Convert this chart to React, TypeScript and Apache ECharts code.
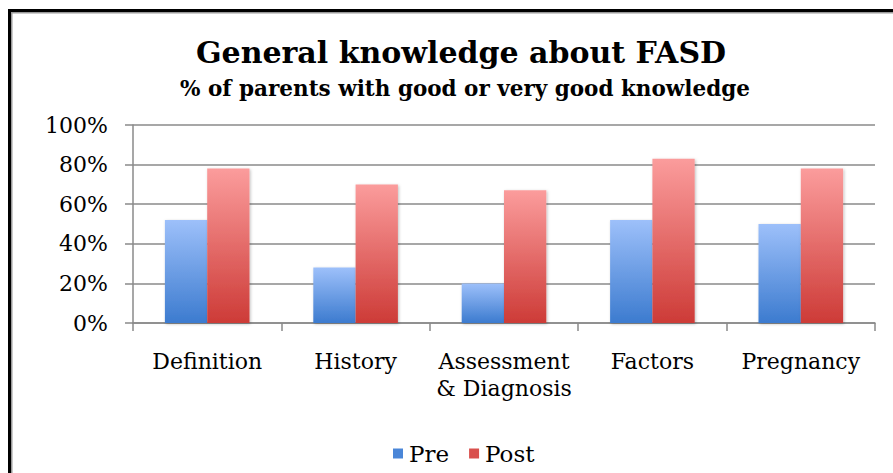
import React, { useEffect, useRef } from "react";
import * as echarts from "echarts";

const categories = ["Definition", "History", "Assessment\n& Diagnosis", "Factors", "Pregnancy"];
const preValues = [52, 28, 20, 52, 50];
const postValues = [78, 70, 67, 83, 78];
const yTicks = [0, 20, 40, 60, 80, 100];

const FONT = "'DejaVu Serif', serif";

export default function App() {
  const ref = useRef<HTMLDivElement>(null);
  useEffect(() => {
    if (!ref.current) return;
    const chart = echarts.init(ref.current, null, { renderer: "svg" });
    const grad = (top: string, bottom: string) =>
      new echarts.graphic.LinearGradient(0, 0, 0, 1, [
        { offset: 0, color: top },
        { offset: 1, color: bottom },
      ]);
    chart.setOption({
      animation: false,
      backgroundColor: "#ffffff",
      title: [
        {
          text: "General knowledge about FASD",
          left: 456,
          textAlign: "center",
          top: 32,
          textStyle: { fontFamily: FONT, fontWeight: "bold", fontSize: 30, color: "#000" },
        },
        {
          text: "% of parents with good or very good knowledge",
          left: 460,
          textAlign: "center",
          top: 72,
          textStyle: { fontFamily: FONT, fontWeight: "bold", fontSize: 21.5, color: "#000" },
        },
      ],
      legend: {
        left: 388,
        top: 437,
        icon: "rect",
        itemWidth: 10,
        itemHeight: 10,
        itemGap: 20,
        textStyle: { fontFamily: FONT, fontSize: 23, color: "#000", padding: [0, 0, 0, 1] },
        data: [
          { name: "Pre", itemStyle: { color: "#4a86d8" } },
          { name: "Post", itemStyle: { color: "#d9504d" } },
        ],
      },
      grid: { left: 133, right: 18, top: 125, bottom: 150, containLabel: false },
      xAxis: {
        type: "category",
        data: categories,
        axisLine: { show: true, lineStyle: { color: "#8a8a8a", width: 1.5 } },
        axisTick: { show: true, length: 8, alignWithLabel: false, lineStyle: { color: "#8a8a8a", width: 1.5 } },
        axisLabel: {
          fontFamily: FONT,
          fontSize: 22,
          color: "#000",
          margin: 25,
          lineHeight: 27,
          interval: 0,
        },
      },
      yAxis: {
        type: "value",
        min: 0,
        max: 100,
        interval: 20,
        axisLine: { show: true, lineStyle: { color: "#8a8a8a", width: 1.5 } },
        axisTick: { show: true, length: 8, lineStyle: { color: "#8a8a8a", width: 1.5 } },
        splitLine: { show: true, lineStyle: { color: "#8a8a8a", width: 1.5 } },
        axisLabel: {
          fontFamily: FONT,
          fontSize: 22,
          color: "#000",
          margin: 25,
          formatter: (v: number) => (yTicks.includes(v) ? v + "%" : ""),
        },
      },
      series: [
        {
          name: "Pre",
          type: "bar",
          data: preValues,
          barGap: "0%",
          barCategoryGap: "43%",
          itemStyle: {
            color: grad("#9dc0fa", "#3c7bcf"),
            shadowColor: "rgba(0,0,0,0.25)",
            shadowBlur: 3,
            shadowOffsetX: 1,
            shadowOffsetY: 1,
          },
        },
        {
          name: "Post",
          type: "bar",
          data: postValues,
          barGap: "0%",
          barCategoryGap: "43%",
          itemStyle: {
            color: grad("#fb9c9c", "#cd3b37"),
            shadowColor: "rgba(0,0,0,0.25)",
            shadowBlur: 3,
            shadowOffsetX: 1,
            shadowOffsetY: 1,
          },
        },
      ],
      graphic: [
        { type: "rect", shape: { x: 8, y: 9, width: 885, height: 3 }, style: { fill: "#000" }, silent: true },
        { type: "rect", shape: { x: 11, y: 12, width: 882, height: 1.5 }, style: { fill: "#9a9a9a" }, silent: true },
        { type: "rect", shape: { x: 8, y: 9, width: 3, height: 464 }, style: { fill: "#000" }, silent: true },
        { type: "rect", shape: { x: 11, y: 12, width: 1.5, height: 461 }, style: { fill: "#9a9a9a" }, silent: true },
      ],
    });
    return () => chart.dispose();
  }, []);
  return (
    <div
      ref={ref}
      style={{ position: "fixed", left: 0, top: 0, width: 893, height: 473, background: "#fff" }}
    />
  );
}
